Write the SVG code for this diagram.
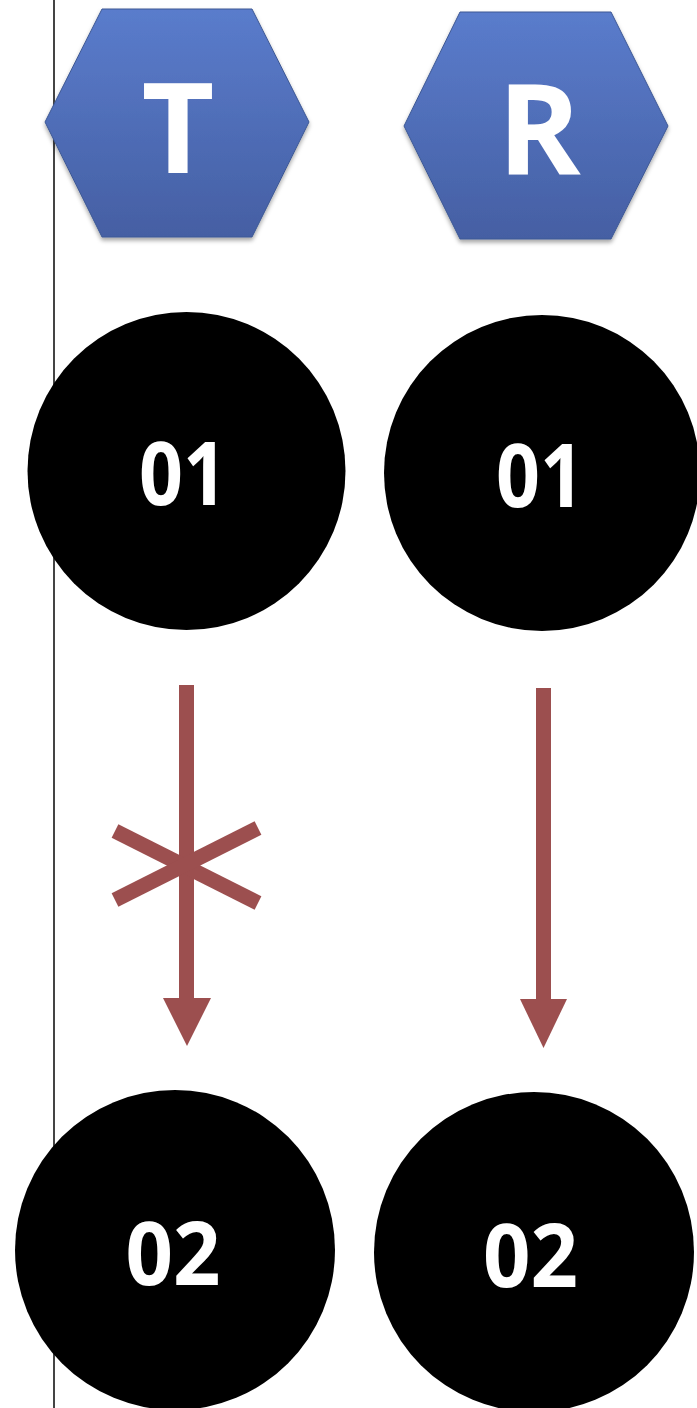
<svg xmlns="http://www.w3.org/2000/svg" width="697" height="1408" viewBox="0 0 697 1408">
<style>
.hex{fill:url(#hg);stroke:#3d5894;stroke-width:1;filter:url(#sh)}
.hl{fill:#ffffff;font-family:"Open Sans","Liberation Sans",sans-serif;font-weight:bold;font-size:126px;text-anchor:middle}
.circ{fill:#000000}
.cl{fill:#ffffff;font-family:"Open Sans","Liberation Sans",sans-serif;font-weight:bold;font-size:88px;text-anchor:middle}
.shaft{stroke:#9c4f4f;stroke-width:15;fill:none}
.head{fill:#9c4f4f}
</style>
<defs>
<linearGradient id="hg" x1="0" y1="0" x2="0" y2="1">
<stop offset="0" stop-color="#5a7ccc"/>
<stop offset="1" stop-color="#455fa3"/>
</linearGradient>
<filter id="sh" x="-10%" y="-10%" width="120%" height="120%">
<feDropShadow dx="0" dy="3" stdDeviation="2" flood-color="#000" flood-opacity="0.35"/>
</filter>
</defs>
<line x1="54" y1="0" x2="54" y2="1408" stroke="#444" stroke-width="2"/>
<g id="hexT">
<polygon class="hex" points="102,9 252,9 309,122 252,237 102,237 45,122"/>
<text class="hl" x="178" y="173">T</text>
</g>
<g id="hexR">
<polygon class="hex" points="460,12 611,12 668,126 611,239 460,239 404,126"/>
<text class="hl" x="539" y="174">R</text>
</g>
<g id="T01">
<circle class="circ" cx="186.5" cy="471" r="159"/>
<text class="cl" x="183" y="505" textLength="88" lengthAdjust="spacingAndGlyphs">01</text>
</g>
<g id="R01">
<circle class="circ" cx="542" cy="473" r="158"/>
<text class="cl" x="540" y="507" textLength="88" lengthAdjust="spacingAndGlyphs">01</text>
</g>
<g id="T02">
<circle class="circ" cx="175" cy="1250" r="160"/>
<text class="cl" x="173" y="1285" textLength="95" lengthAdjust="spacingAndGlyphs">02</text>
</g>
<g id="R02">
<circle class="circ" cx="534" cy="1252" r="160"/>
<text class="cl" x="530.5" y="1287" textLength="95" lengthAdjust="spacingAndGlyphs">02</text>
</g>
<g id="connectors">
<line class="shaft" x1="186.5" y1="685" x2="186.5" y2="1000"/>
<polygon class="head" points="163,998 211,998 187,1046"/>
<line class="shaft" x1="115" y1="831" x2="258" y2="903"/>
<line class="shaft" x1="115" y1="900" x2="258" y2="828"/>
<line class="shaft" x1="543.5" y1="688" x2="543.5" y2="1000"/>
<polygon class="head" points="520,999 567,999 543.5,1048"/>
</g>
</svg>
